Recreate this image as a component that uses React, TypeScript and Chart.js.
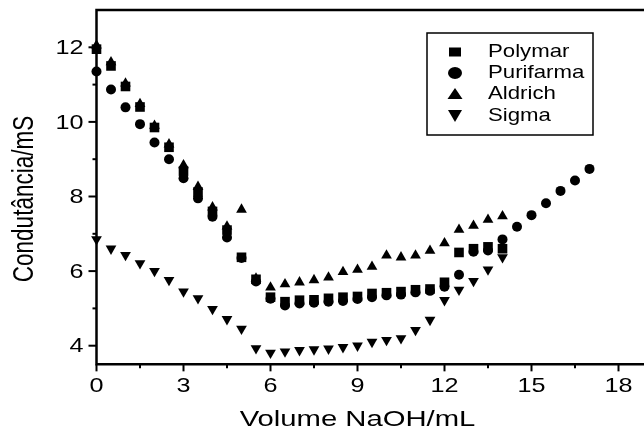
import React, { useEffect, useRef } from 'react';
import { Chart, registerables } from 'chart.js';

Chart.register(...registerables);

// ---- data ----
const volumes = [0, 0.5, 1, 1.5, 2, 2.5, 3, 3.5, 4, 4.5, 5, 5.5, 6, 6.5, 7, 7.5, 8, 8.5, 9, 9.5, 10, 10.5, 11, 11.5, 12, 12.5, 13, 13.5, 14];
const volumesPurifarma = [0, 0.5, 1, 1.5, 2, 2.5, 3, 3.5, 4, 4.5, 5, 5.5, 6, 6.5, 7, 7.5, 8, 8.5, 9, 9.5, 10, 10.5, 11, 11.5, 12, 12.5, 13, 13.5, 14, 14.5, 15, 15.5, 16, 16.5, 17];

const polymar = [11.95, 11.5, 10.95, 10.4, 9.85, 9.32, 8.68, 8.12, 7.6, 7.1, 6.37, 5.78, 5.3, 5.18, 5.22, 5.23, 5.27, 5.3, 5.32, 5.4, 5.42, 5.45, 5.5, 5.52, 5.7, 6.5, 6.6, 6.65, 6.6];
const purifarma = [11.35, 10.87, 10.39, 9.94, 9.45, 9.0, 8.49, 7.95, 7.46, 6.9, 6.35, 5.72, 5.26, 5.08, 5.13, 5.15, 5.18, 5.2, 5.25, 5.3, 5.35, 5.37, 5.43, 5.47, 5.58, 5.9, 6.52, 6.55, 6.85, 7.19, 7.5, 7.82, 8.15, 8.43, 8.74];
const aldrich = [12.05, 11.6, 11.03, 10.48, 9.9, 9.4, 8.84, 8.26, 7.71, 7.2, 7.65, 5.8, 5.56, 5.65, 5.7, 5.76, 5.83, 5.98, 6.04, 6.12, 6.42, 6.37, 6.42, 6.55, 6.75, 7.11, 7.22, 7.38, 7.47];
const sigma = [6.85, 6.6, 6.43, 6.21, 6.0, 5.76, 5.45, 5.27, 4.98, 4.71, 4.45, 3.93, 3.81, 3.84, 3.88, 3.9, 3.92, 3.96, 4.0, 4.1, 4.15, 4.2, 4.42, 4.69, 5.22, 5.5, 5.73, 6.04, 6.37];

const seriesNames = ['Polymar', 'Purifarma', 'Aldrich', 'Sigma'];
const xTickValues = [0, 3, 6, 9, 12, 15, 18];
const xMinorTickValues = [1.5, 4.5, 7.5, 10.5, 13.5, 16.5];
const yTickValues = [4, 6, 8, 10, 12];
const yMinorTickValues = [5, 7, 9, 11];
const xTitle = 'Volume NaOH/mL';
const yTitle = 'Condutância/mS';

const FONT = '"Liberation Sans", Arial, sans-serif';

function stretchedText(ctx: CanvasRenderingContext2D, text: string, x: number, y: number, sx: number, align: CanvasTextAlign, rotate = false) {
  ctx.save();
  ctx.translate(x, y);
  if (rotate) {
    ctx.rotate(-Math.PI / 2);
    ctx.scale(1, sx);
  } else {
    ctx.scale(sx, 1);
  }
  ctx.textAlign = align;
  ctx.textBaseline = 'middle';
  ctx.fillText(text, 0, 0);
  ctx.restore();
}

const axesPlugin = {
  id: 'customAxes',
  beforeDatasetsDraw(chart: any) {
    const { ctx, chartArea } = chart;
    const xs = chart.scales.x;
    const ys = chart.scales.y;
    const { left, right, top, bottom } = chartArea;
    ctx.save();
    ctx.strokeStyle = '#000';
    ctx.fillStyle = '#000';
    ctx.lineWidth = 2.5;
    ctx.lineCap = 'square';
    ctx.beginPath();
    ctx.moveTo(right, top);
    ctx.lineTo(left, top);
    ctx.lineTo(left, bottom);
    ctx.lineTo(right, bottom);
    ctx.stroke();

    ctx.lineCap = 'butt';
    ctx.lineWidth = 2;
    for (const v of xTickValues) {
      const px = xs.getPixelForValue(v);
      ctx.beginPath();
      ctx.moveTo(px, bottom);
      ctx.lineTo(px, bottom + 7);
      ctx.stroke();
    }
    for (const v of xMinorTickValues) {
      const px = xs.getPixelForValue(v);
      ctx.beginPath();
      ctx.moveTo(px, bottom);
      ctx.lineTo(px, bottom + 4);
      ctx.stroke();
    }
    for (const v of yTickValues) {
      const py = ys.getPixelForValue(v);
      ctx.beginPath();
      ctx.moveTo(left - 8, py);
      ctx.lineTo(left, py);
      ctx.stroke();
    }
    for (const v of yMinorTickValues) {
      const py = ys.getPixelForValue(v);
      ctx.beginPath();
      ctx.moveTo(left - 4, py);
      ctx.lineTo(left, py);
      ctx.stroke();
    }

    ctx.font = `21px ${FONT}`;
    for (const v of xTickValues) {
      stretchedText(ctx, String(v), xs.getPixelForValue(v), bottom + 22, 1.2, 'center');
    }
    for (const v of yTickValues) {
      stretchedText(ctx, String(v), left - 13, ys.getPixelForValue(v) + 1, 1.2, 'right');
    }

    ctx.font = `22.5px ${FONT}`;
    stretchedText(ctx, xTitle, 357.5, 420, 1.3, 'center');
    stretchedText(ctx, yTitle, 25, 199, 1.3, 'center', true);
    ctx.restore();
  },
  afterDraw(chart: any) {
    const { ctx } = chart;
    ctx.save();
    ctx.strokeStyle = '#000';
    ctx.fillStyle = '#000';
    ctx.lineWidth = 1.5;
    ctx.strokeRect(427, 33, 166, 102);
    const rows = [52, 73, 94, 116];
    const mx = 455;
    // square
    ctx.fillRect(mx - 6, rows[0] - 4.5, 12, 9);
    // circle
    ctx.beginPath();
    ctx.ellipse(mx, rows[1], 7, 6, 0, 0, Math.PI * 2);
    ctx.fill();
    // up triangle
    ctx.beginPath();
    ctx.moveTo(mx, rows[2] - 6);
    ctx.lineTo(mx + 7.5, rows[2] + 5);
    ctx.lineTo(mx - 7.5, rows[2] + 5);
    ctx.closePath();
    ctx.fill();
    // down triangle
    ctx.beginPath();
    ctx.moveTo(mx - 7, rows[3] - 6);
    ctx.lineTo(mx + 7, rows[3] - 6);
    ctx.lineTo(mx, rows[3] + 6);
    ctx.closePath();
    ctx.fill();

    ctx.font = `18.5px ${FONT}`;
    seriesNames.forEach((name, i) => {
      stretchedText(ctx, name, 488, rows[i], 1.2, 'left');
    });
    ctx.restore();
  },
};

function toPoints(xv: number[], yv: number[]) {
  return xv.map((x, i) => ({ x, y: yv[i] }));
}

export default function App() {
  const ref = useRef<HTMLCanvasElement>(null);
  useEffect(() => {
    const common = {
      backgroundColor: '#000',
      borderColor: '#000',
      borderWidth: 0,
      pointBorderWidth: 0,
      showLine: false,
      clip: false as const,
    };
    const chart = new Chart(ref.current as HTMLCanvasElement, {
      type: 'scatter',
      data: {
        datasets: [
          { ...common, label: seriesNames[0], data: toPoints(volumes, polymar), pointStyle: 'rect', pointRadius: 6.8 },
          { ...common, label: seriesNames[1], data: toPoints(volumesPurifarma, purifarma), pointStyle: 'circle', pointRadius: 5 },
          { ...common, label: seriesNames[2], data: toPoints(volumes, aldrich), pointStyle: 'triangle', pointRadius: 6.2 },
          { ...common, label: seriesNames[3], data: toPoints(volumes, sigma), pointStyle: 'triangle', pointRotation: 180, pointRadius: 6.2 },
        ],
      },
      options: {
        animation: false,
        responsive: false,
        maintainAspectRatio: false,
        layout: { padding: { left: 96.5, right: 23.5, top: 10, bottom: 67.65 } },
        scales: {
          x: { type: 'linear', min: 0, max: 20, display: false },
          y: { type: 'linear', min: 3.5, max: 13, display: false },
        },
        plugins: { legend: { display: false }, tooltip: { enabled: false } },
      },
      plugins: [axesPlugin],
    } as any);
    return () => chart.destroy();
  }, []);
  return (
    <div style={{ position: 'fixed', left: 0, top: 0, width: 700, height: 432, background: '#fff' }}>
      <canvas ref={ref} width={700} height={432} style={{ display: 'block', width: 700, height: 432 }} />
    </div>
  );
}
